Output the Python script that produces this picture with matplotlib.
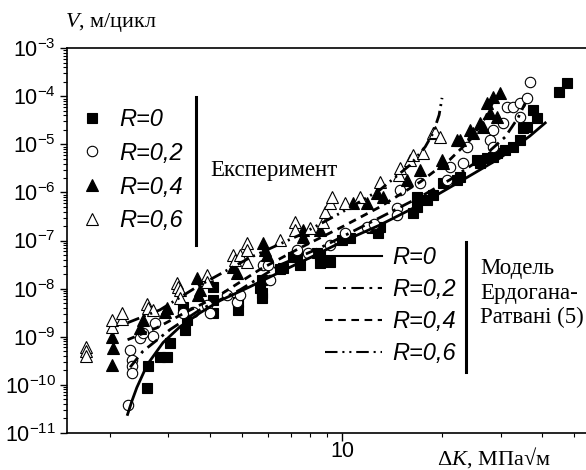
import matplotlib
matplotlib.use("Agg")
import matplotlib.pyplot as plt
from matplotlib.lines import Line2D
from matplotlib import ticker

plt.rcParams['font.family'] = ['Liberation Sans', 'DejaVu Sans']
plt.rcParams['mathtext.fontset'] = 'custom'
plt.rcParams['mathtext.rm'] = 'Liberation Serif'
plt.rcParams['mathtext.it'] = 'Liberation Serif:italic'
plt.rcParams['axes.unicode_minus'] = False
plt.rcParams['lines.scale_dashes'] = False

# experimental points, dK in MPa*sqrt(m), V in m/cycle
dk_r0 = [2.59, 2.61, 2.83, 2.97, 3.03, 3.37, 3.41, 3.32, 4.09, 4.09, 4.09, 4.86, 4.86,
         5.66, 5.74, 5.74, 5.74, 6.50, 6.64, 7.12, 7.32, 7.47, 8.41, 8.58, 8.58, 9.2,
         10.0, 10.6, 12.3, 12.8, 13.0, 16.4, 16.8, 16.8, 18.0, 18.8, 20.1, 22.2, 22.7,
         25.5, 26.0, 27.3, 28.5, 29.3, 31.0, 32.7, 34.4, 35.1, 36.1, 37.6, 38.7, 45.0, 47.6]
v_r0 = [8.7e-11, 2.4e-10, 3.8e-10, 3.8e-10, 7.5e-10, 1.4e-9, 2.2e-9, 4.2e-9, 3.1e-9, 5.8e-9, 1.09e-8,
        3.6e-9, 5.3e-9, 1.04e-8, 8.2e-9, 6.4e-9, 1.52e-8, 2.5e-8, 2.7e-8, 4.6e-8, 4.6e-8, 3.1e-8,
        5.5e-8, 5.0e-8, 3.4e-8, 3.6e-8, 1.03e-7, 1.14e-7, 1.84e-7, 1.45e-7, 1.92e-7, 3.8e-7, 5.0e-7,
        8.1e-7, 7.0e-7, 8.9e-7, 1.58e-6, 1.83e-6, 2.1e-6, 4.8e-6, 4.1e-6, 5.2e-6, 5.5e-6, 6.7e-6,
        7.7e-6, 8.9e-6, 1.24e-5, 2.2e-5, 2.3e-5, 5.2e-5, 3.6e-5, 1.24e-4, 1.9e-4]

dk_r02 = [2.27, 2.30, 2.33, 2.33, 2.33, 2.46, 2.51, 2.70, 2.73, 3.32, 3.56, 3.92, 4.00, 4.51,
          4.83, 4.93, 5.78, 5.98, 6.07, 7.32, 7.90, 9.2, 10.2, 11.9, 12.5, 14.6, 14.6, 14.9,
          17.2, 20.7, 21.1, 23.1, 23.8, 27.9, 28.5, 28.5, 30.5, 31.4, 32.7, 34.4, 34.4, 36.1, 36.8]
v_r02 = [3.7e-11, 5.3e-10, 3.3e-10, 2.4e-10, 1.77e-10, 9.5e-10, 1.2e-9, 1.04e-9, 1.94e-9, 3.1e-9,
         3.3e-9, 4.6e-9, 3.1e-9, 7.4e-9, 5.3e-9, 7.4e-9, 3.1e-8, 3.1e-8, 1.52e-8, 6.4e-8, 5.5e-8,
         8.1e-8, 1.45e-7, 1.9e-7, 2.2e-7, 4.8e-7, 3.4e-7, 1.13e-6, 1.58e-6, 1.83e-6, 3.4e-6, 4.1e-6,
         8.9e-6, 1.24e-5, 8.9e-6, 2.0e-5, 2.8e-5, 6.0e-5, 6.0e-5, 7.3e-5, 3.7e-5, 9.3e-5, 2.0e-4]

dk_r04 = [2.03, 2.04, 2.03, 2.46, 2.51, 2.93, 2.97, 3.66, 3.68, 3.73, 4.70, 4.83, 5.78, 5.86,
          5.94, 7.63, 7.63, 8.58, 10.8, 11.9, 12.7, 13.3, 15.7, 17.2, 20.0, 20.1, 22.2, 22.7,
          24.3, 24.8, 26.0, 26.6, 27.3, 27.9, 28.5, 29.3, 29.9]
v_r04 = [2.6e-10, 5.9e-10, 1.0e-9, 1.53e-9, 2.2e-9, 3.3e-9, 4.0e-9, 1.68e-8, 7.4e-9, 9.4e-9,
         2.8e-8, 2.1e-8, 9.0e-8, 6.4e-8, 5.0e-8, 1.67e-7, 1.19e-7, 1.67e-7, 6.1e-7, 6.1e-7,
         9.8e-7, 8.1e-7, 1.83e-6, 2.95e-6, 4.8e-6, 4.1e-6, 1.24e-5, 1.24e-5, 2.0e-5, 1.73e-5,
         2.8e-5, 2.3e-5, 7.3e-5, 4.5e-5, 9.7e-5, 3.7e-5, 1.18e-4]

dk_r06 = [1.69, 1.69, 1.69, 2.03, 2.03, 2.17, 2.17, 2.59, 2.61, 2.70, 3.18, 3.21, 3.25, 3.25,
          3.92, 3.92, 4.70, 4.76, 4.93, 5.17, 5.17, 5.17, 6.50, 7.22, 7.22, 8.01, 8.77, 8.89,
          9.2, 9.33, 10.2, 11.3, 13.0, 14.8, 14.9, 16.0, 16.4, 17.5, 18.8, 19.0, 19.7]
v_r06 = [6.2e-10, 4.9e-10, 4.0e-10, 1.6e-9, 2.2e-9, 2.35e-9, 3.1e-9, 4.8e-9, 4.0e-9, 3.6e-9,
         1.32e-8, 1.09e-8, 9.4e-9, 6.4e-9, 1.94e-8, 1.38e-8, 5.0e-8, 4.0e-8, 5.0e-8, 9.0e-8,
         6.4e-8, 3.6e-8, 1.03e-7, 2.4e-7, 1.67e-7, 1.84e-7, 2.4e-7, 3.9e-7, 6.1e-7, 8.1e-7,
         6.1e-7, 8.1e-7, 1.66e-6, 2.3e-6, 3.2e-6, 4.8e-6, 6.1e-6, 6.7e-6, 1.73e-5, 1.8e-5, 1.43e-5]

# model curves (Erdogan-Ratwani)
mdk_r0 = [2.26, 2.33, 2.41, 2.59, 2.89, 3.25, 3.73, 4.29, 5.28, 6.50, 8.01, 10.0, 13.0,
          17.2, 22.7, 29.9, 36.8, 40.9]
mv_r0 = [2.4e-11, 4.6e-11, 8.7e-11, 2.6e-10, 7.5e-10, 1.6e-9, 3.1e-9, 5.6e-9, 1.09e-8, 2.2e-8,
         4.4e-8, 9.4e-8, 2.1e-7, 5.6e-7, 1.7e-6, 5.2e-6, 1.5e-5, 2.8e-5]
mdk_r02 = [2.30, 2.51, 3.03, 3.73, 4.93, 6.50, 8.58, 10.0, 13.0, 17.2, 21.1, 26.0, 31.0, 33.9, 35.6]
mv_r02 = [2.3e-10, 4.9e-10, 1.39e-9, 3.6e-9, 9.4e-9, 3.1e-8, 7.0e-8, 1.19e-7, 3.0e-7, 8.1e-7,
          1.83e-6, 4.8e-6, 1.43e-5, 3.6e-5, 7.3e-5]
mdk_r04 = [2.26, 2.77, 3.41, 4.29, 5.66, 7.47, 10.0, 13.0, 17.2, 21.1, 24.3, 27.0, 28.9]
mv_r04 = [8.6e-10, 1.53e-9, 3.3e-9, 7.4e-9, 2.5e-8, 7.0e-8, 1.92e-7, 5.0e-7, 1.66e-6, 4.8e-6,
          1.24e-5, 3.6e-5, 9.3e-5]
mdk_r06 = [2.26, 2.83, 3.66, 5.28, 7.47, 10.0, 13.0, 16.0, 17.8, 18.8, 19.6, 20.0]
mv_r06 = [1.94e-9, 3.6e-9, 1.09e-8, 4.4e-8, 1.31e-7, 3.9e-7, 1.13e-6, 3.7e-6, 8.9e-6, 1.73e-5,
          4.1e-5, 9.3e-5]

labels = ["R=0", "R=0,2", "R=0,4", "R=0,6"]
styles = ['-', (0, (9, 4, 2, 4)), (0, (5.5, 4)), (0, (9, 3.5, 1.5, 3.5, 1.5, 3.5))]

fig = plt.figure(figsize=(5.86, 4.70), dpi=100)
ax = fig.add_axes([67 / 586, 1 - 432.7 / 470, 533 / 586, 384.4 / 470])
ax.set_xscale('log')
ax.set_yscale('log')

mk = dict(linestyle='none', markeredgecolor='k', markeredgewidth=0.8)
p0, = ax.plot(dk_r0, v_r0, marker='s', ms=7, color='k', **mk)
p1, = ax.plot(dk_r02, v_r02, marker='o', ms=7.5, markerfacecolor='white', **mk)
p2, = ax.plot(dk_r04, v_r04, marker='^', ms=8, color='k', **mk)
p3, = ax.plot(dk_r06, v_r06, marker='^', ms=8, markerfacecolor='white', **mk)

for x, y, ls in zip([mdk_r0, mdk_r02, mdk_r04, mdk_r06],
                    [mv_r0, mv_r02, mv_r04, mv_r06], styles):
    ax.plot(x, y, color='k', lw=2.0, linestyle=ls)

ax.set_xlim(1.485, 59.8)
ax.set_ylim(1e-11, 1e-3)

ax.xaxis.set_major_locator(ticker.FixedLocator([10]))
ax.xaxis.set_major_formatter(ticker.FixedFormatter(['10']))
ax.xaxis.set_minor_locator(ticker.FixedLocator([2, 3, 4, 5, 6, 7, 8, 9, 20, 30, 40, 50]))
ax.xaxis.set_minor_formatter(ticker.NullFormatter())
ax.yaxis.set_major_locator(ticker.LogLocator(base=10, numticks=20))
ax.yaxis.set_major_formatter(ticker.LogFormatterSciNotation())
ax.yaxis.set_minor_locator(ticker.LogLocator(base=10, subs=range(2, 10), numticks=20))
ax.yaxis.set_minor_formatter(ticker.NullFormatter())
ax.tick_params(which='major', direction='out', length=5, width=1, labelsize=15.5, pad=3)
ax.tick_params(which='minor', direction='out', length=3, width=0.8)
ax.tick_params(axis='x', which='major', length=6, pad=0)
for s in ax.spines.values():
    s.set_linewidth(1.2)

lprop = dict(family='Liberation Sans', style='italic', size=17)
leg1 = ax.legend([p0, p1, p2, p3], labels, loc='upper left', bbox_to_anchor=(0.024, 0.845),
                 frameon=False, prop=lprop, handlelength=1.0, handletextpad=0.69,
                 labelspacing=0.46, borderpad=0, borderaxespad=0)
ax.add_artist(leg1)
lh = [Line2D([], [], color='k', lw=1.5, linestyle=ls) for ls in styles]
ax.legend(lh, labels, loc='upper left', bbox_to_anchor=(0.484, 0.485), frameon=False,
          prop=lprop, handlelength=2.42, handletextpad=0.42, labelspacing=0.38,
          borderpad=0, borderaxespad=0)

ax.plot([0.242, 0.242], [0.488, 0.873], transform=ax.transAxes, color='k', lw=2.2, clip_on=False)
ax.plot([0.749, 0.749], [0.158, 0.496], transform=ax.transAxes, color='k', lw=2.2, clip_on=False)
ax.text(0.268, 0.683, "Експеримент", transform=ax.transAxes, family='Liberation Serif',
        fontsize=16.5, va='center', ha='left')
ax.text(0.775, 0.363, "Модель\nЕрдогана-\nРатвані (5)", transform=ax.transAxes,
        family='Liberation Serif', fontsize=16.5, va='center', ha='left', linespacing=1.2)

fig.text(65 / 586, 1 - 23 / 470, r"$\mathit{V}$, м/цикл", family='Liberation Serif',
         fontsize=16, va='center', ha='left')
fig.text(437 / 586, 1 - 458 / 470, r"Δ$\mathit{K}$, МПа√м", family='Liberation Serif',
         fontsize=16, va='center', ha='left')

fig.savefig("out.png", dpi=100)
